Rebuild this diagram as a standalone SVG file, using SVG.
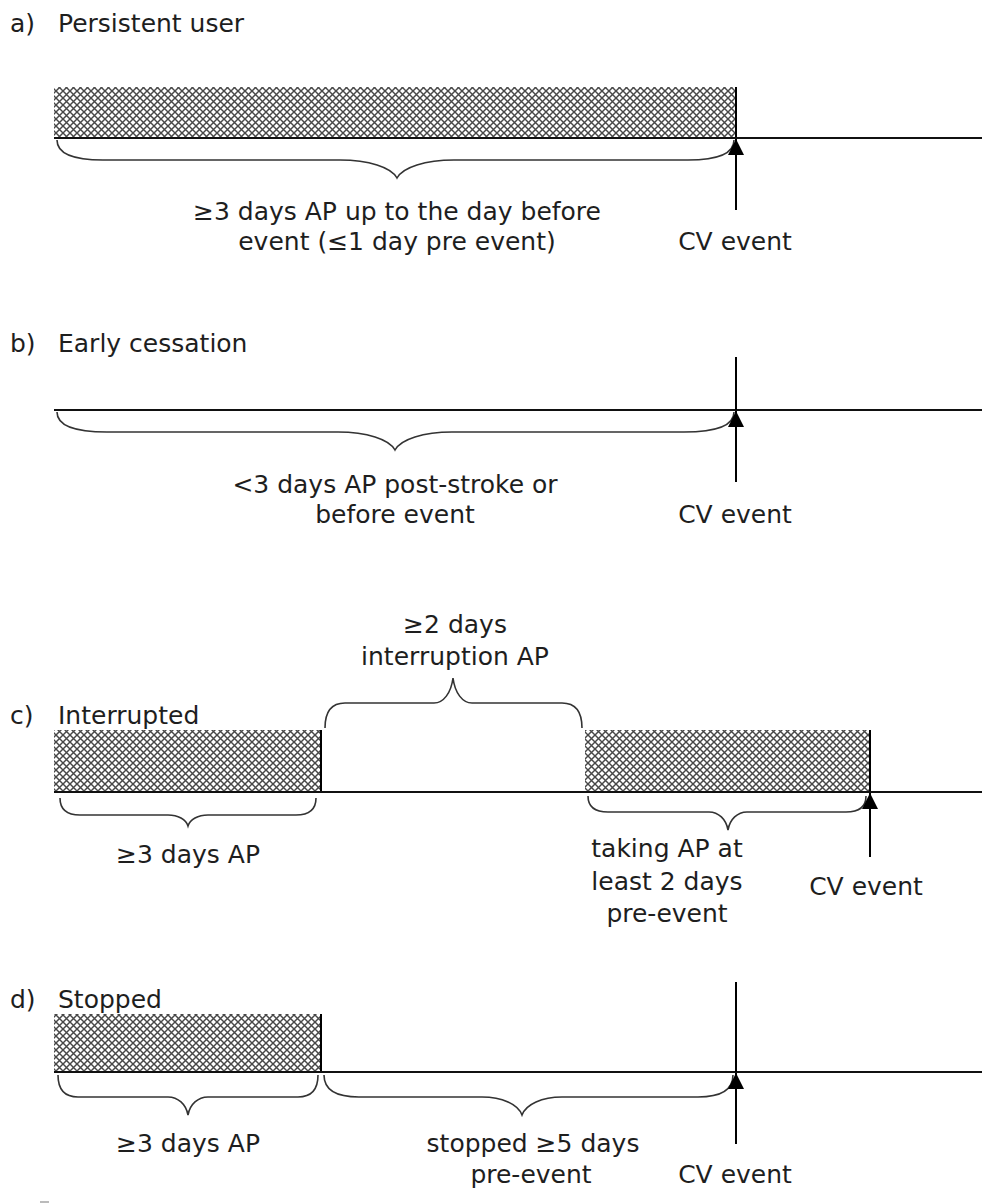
<svg xmlns="http://www.w3.org/2000/svg" width="982" height="1203" viewBox="0 0 982 1203">
<style>
text{font-family:"DejaVu Sans","Open Sans",sans-serif;font-size:25px;fill:#1e1e1e}
.c{text-anchor:middle}
.base{stroke:#111;stroke-width:2;fill:none}
.edge{stroke:#000;stroke-width:2}
.brace{stroke:#333;stroke-width:1.6;fill:none}
.arr{stroke:#000;stroke-width:2;fill:none}
.hatch{fill:url(#hatch)}
</style>
<defs>
<pattern id="hatch" width="7" height="7" patternUnits="userSpaceOnUse">
<rect width="7" height="7" fill="#fff"/>
<path d="M0,0 L7,7 M7,0 L0,7" stroke="#484848" stroke-width="1.45"/>
</pattern>
<marker id="ah" viewBox="0 0 10 10" refX="10" refY="5" markerWidth="18" markerHeight="16" markerUnits="userSpaceOnUse" orient="auto">
<path d="M0,0 L10,5 L0,10 z" fill="#000"/>
</marker>
</defs>
<rect width="982" height="1203" fill="#fff"/>

<g id="panel-a">
<text x="10" y="32">a)</text><text x="58" y="32">Persistent user</text>
<rect class="hatch" x="54" y="87" width="682" height="51"/>
<line class="edge" x1="736" y1="87" x2="736" y2="138"/>
<text class="c" x="397" y="220">≥3 days AP up to the day before</text>
<text class="c" x="397" y="250">event (≤1 day pre event)</text>
<text class="c" x="735" y="250">CV event</text>
</g>

<g id="panel-b">
<text x="10" y="352">b)</text><text x="58" y="352">Early cessation</text>
<text class="c" x="395" y="493">&lt;3 days AP post-stroke or</text>
<text class="c" x="395" y="523">before event</text>
<text class="c" x="735" y="523">CV event</text>
</g>

<g id="panel-c">
<text class="c" x="455" y="633">≥2 days</text>
<text class="c" x="455" y="665">interruption AP</text>
<text x="10" y="724">c)</text><text x="58" y="724">Interrupted</text>
<rect class="hatch" x="54" y="730" width="267" height="62"/>
<line class="edge" x1="321" y1="730" x2="321" y2="792"/>
<rect class="hatch" x="585" y="730" width="285" height="62"/>
<line class="edge" x1="870" y1="730" x2="870" y2="792"/>
<text class="c" x="188" y="863">≥3 days AP</text>
<text class="c" x="667" y="857">taking AP at</text>
<text class="c" x="667" y="890">least 2 days</text>
<text class="c" x="667" y="922">pre-event</text>
<text class="c" x="866" y="895">CV event</text>
</g>

<g id="panel-d">
<text x="10" y="1008">d)</text><text x="58" y="1008">Stopped</text>
<rect class="hatch" x="54" y="1014" width="267" height="58"/>
<line class="edge" x1="321" y1="1014" x2="321" y2="1072"/>
<text class="c" x="188" y="1152">≥3 days AP</text>
<text class="c" x="533" y="1152">stopped ≥5 days</text>
<text class="c" x="531" y="1183">pre-event</text>
<text class="c" x="735" y="1183">CV event</text>
<rect x="40" y="1201" width="9" height="2" fill="#bbb"/>
</g>

<g id="connectors">
<line class="base" x1="54" y1="138" x2="982" y2="138"/>
<line class="base" x1="54" y1="410" x2="982" y2="410"/>
<line class="base" x1="54" y1="792" x2="982" y2="792"/>
<line class="base" x1="54" y1="1072" x2="982" y2="1072"/>

<path class="brace" d="M57,140 Q57,160 103,160 L340,160 C368.5,160 391.3,167.2 397,178 C402.7,167.2 425.5,160 454,160 L688,160 Q734,160 734,140"/>
<path class="brace" d="M57,412 Q57,432 107,432 L338,432 C366.5,432 389.3,439.2 395,450 C400.7,439.2 423.5,432 452,432 L684,432 Q734,432 734,412"/>
<path class="brace" d="M325,728 Q325,703 345,703 L434,703 C443.5,703 451.1,693 453,678 C454.9,693 462.5,703 472,703 L562,703 Q582,703 582,728"/>
<path class="brace" d="M60,798 Q60,815 80,815 L168,815 C178,815 186,819.4 188,826 C190,819.4 198,815 208,815 L296,815 Q316,815 316,798"/>
<path class="brace" d="M588,796 Q588,812 608,812 L709,812 C718.5,812 726.1,819.2 728,830 C729.9,819.2 737.5,812 747,812 L846,812 Q866,812 866,796"/>
<path class="brace" d="M58,1075 Q58,1097 78,1097 L168,1097 C178,1097 186,1104.2 188,1115 C190,1104.2 198,1097 208,1097 L298,1097 Q318,1097 318,1075"/>
<path class="brace" d="M324,1075 Q324,1097 359,1097 L482,1097 C502,1097 518,1104.2 522,1115 C526,1104.2 542,1097 562,1097 L698,1097 Q733,1097 733,1075"/>

<line class="arr" x1="736" y1="210" x2="736" y2="139" marker-end="url(#ah)"/>
<line class="arr" x1="736" y1="357" x2="736" y2="410"/>
<line class="arr" x1="736" y1="482" x2="736" y2="411" marker-end="url(#ah)"/>
<line class="arr" x1="870" y1="857" x2="870" y2="793" marker-end="url(#ah)"/>
<line class="arr" x1="736" y1="982" x2="736" y2="1072"/>
<line class="arr" x1="736" y1="1144" x2="736" y2="1073" marker-end="url(#ah)"/>
</g>
</svg>
